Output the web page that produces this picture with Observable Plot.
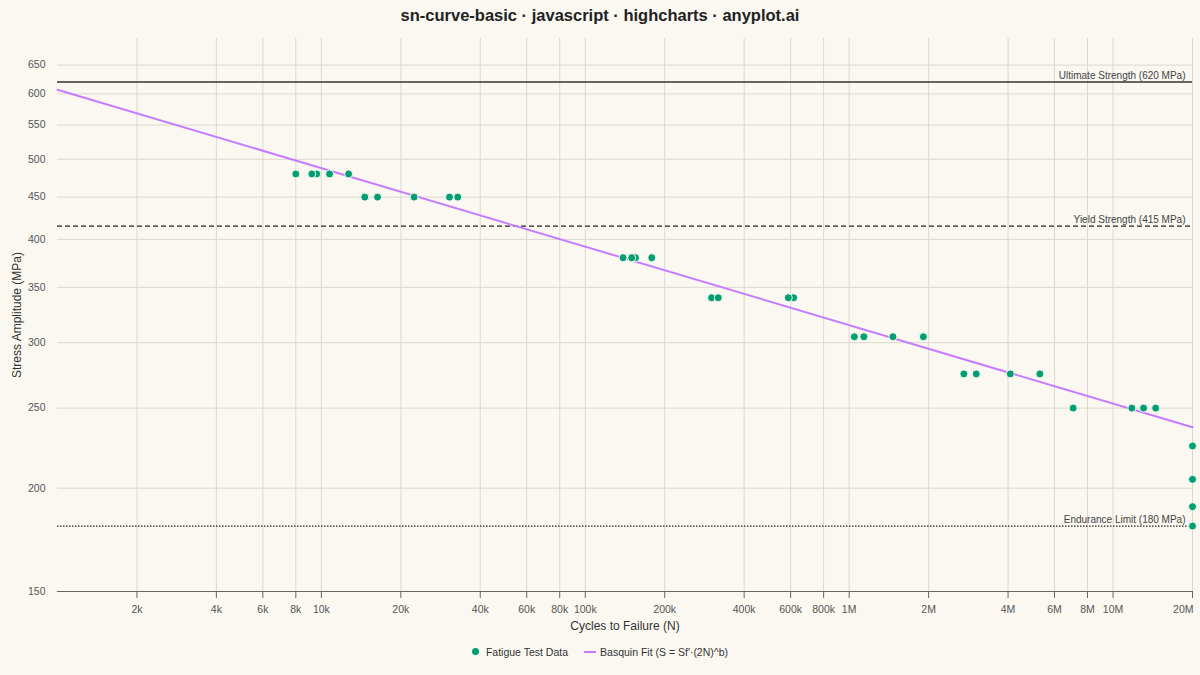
<!DOCTYPE html>
<html>
<head>
<meta charset="utf-8">
<script src="https://cdn.jsdelivr.net/npm/d3@7"></script>
<script src="https://cdn.jsdelivr.net/npm/@observablehq/plot@0.6"></script>
<style>
  html, body { margin: 0; padding: 0; background: #faf8f1; }
  body { width: 1200px; height: 675px; overflow: hidden; font-family: "Liberation Sans", Arial, sans-serif; }
  #title { height: 30px; line-height: 30px; text-align: center; font-size: 16.5px; font-weight: bold; color: #222; }
  #legend { height: 35px; display: flex; justify-content: center; align-items: center; font-size: 10.5px; color: #333; gap: 16px; margin-top: -6px; }
  .item { display: flex; align-items: center; gap: 7px; }
  .item2 { gap: 4px; }
  .dot { width: 7px; height: 7px; border-radius: 50%; background: #009e73; }
  .ln { width: 12px; height: 2px; background: #c77cff; }
</style>
</head>
<body>
<div id="title">sn-curve-basic · javascript · highcharts · anyplot.ai</div>
<div id="chart"></div>
<div id="legend">
  <div class="item"><span class="dot"></span><span>Fatigue Test Data</span></div>
  <div class="item item2"><span class="ln"></span><span>Basquin Fit (S = Sf'·(2N)^b)</span></div>
</div>
<script>
// Fatigue test data (occluded overlapping points listed first so they sit behind)
const cycles = [
  9600, 155000, 602000, 616000,
  8000, 9200, 10740, 12680,
  14600, 16320, 22460, 30590, 32870,
  139000, 150000, 178600,
  301000, 319000, 588000,
  1046000, 1137000, 1465000, 1910000,
  2720000, 3030000, 4080000, 5280000,
  7060000, 11780000, 13050000, 14500000,
  20000000, 20000000, 20000000, 20000000
];
const stress = [
  480, 380, 340, 340,
  480, 480, 480, 480,
  450, 450, 450, 450, 450,
  380, 380, 380,
  340, 340, 340,
  305, 305, 305, 305,
  275, 275, 275, 275,
  250, 250, 250, 250,
  225, 205, 190, 180
];

// Basquin fit line (straight on log-log), end values
const fitCycles = [1000, 20000000];
const fitStress = [607, 237];

// Reference strength levels
const refValues = [620, 415, 180];
const refLabels = ["Ultimate Strength (620 MPa)", "Yield Strength (415 MPa)", "Endurance Limit (180 MPa)"];

// Axis ticks
const xTicks = [2000, 4000, 6000, 8000, 10000, 20000, 40000, 60000, 80000, 100000, 200000, 400000, 600000, 800000,
  1000000, 2000000, 4000000, 6000000, 8000000, 10000000, 20000000];
const yTicks = [150, 200, 250, 300, 350, 400, 450, 500, 550, 600, 650];

const points = cycles.map((n, i) => ({n, s: stress[i]}));
const fit = fitCycles.map((n, i) => ({n, s: fitStress[i]}));
const refs = refValues.map((v, i) => ({v, label: refLabels[i]}));

const fmtX = d => d >= 1e6 ? (d / 1e6) + "M" : (d / 1e3) + "k";

const chart = Plot.plot({
  width: 1200,
  height: 610,
  marginTop: 8,
  marginLeft: 57,
  marginRight: 8,
  marginBottom: 49,
  style: { background: "transparent", fontFamily: "'Liberation Sans', Arial, sans-serif", fontSize: "10.5px", color: "#555" },
  x: { type: "log", domain: [1000, 20000000] },
  y: { type: "log", domain: [150, 700] },
  marks: [
    Plot.gridX(xTicks, { stroke: "#dcd8ce", strokeOpacity: 1 }),
    Plot.gridY(yTicks, { stroke: "#dcd8ce", strokeOpacity: 1 }),
    Plot.axisY({ ticks: yTicks, tickSize: 0, tickPadding: 12, tickFormat: d => d, label: null, fill: "#555", fontSize: 10.5 }),
    Plot.axisX({ ticks: xTicks, tickSize: 7, tickFormat: () => "", label: null, stroke: "#666" }),
    Plot.text(xTicks.slice(0, -1), { x: d => d, text: fmtX, frameAnchor: "bottom", lineAnchor: "middle", textAnchor: "middle", dy: 18, fill: "#555", fontSize: 10.5 }),
    Plot.text(xTicks.slice(-1), { x: d => d, text: fmtX, frameAnchor: "bottom", lineAnchor: "middle", textAnchor: "end", dx: 1, dy: 18, fill: "#555", fontSize: 10.5 }),
    Plot.ruleY([150], { stroke: "#666", strokeWidth: 1 }),
    Plot.ruleY(refs.filter((d, i) => i === 0), { y: "v", stroke: "#333", strokeWidth: 1.5 }),
    Plot.ruleY(refs.filter((d, i) => i === 1), { y: "v", stroke: "#222", strokeWidth: 1.2, strokeDasharray: "5,3" }),
    Plot.ruleY(refs.filter((d, i) => i === 2), { y: "v", stroke: "#222", strokeWidth: 1.2, strokeDasharray: "1.5,1.5" }),
    Plot.text(refs, { y: "v", text: "label", frameAnchor: "right", textAnchor: "end", lineAnchor: "bottom", dx: -7, dy: -3, fill: "#444", fontSize: 10 }),
    Plot.line(fit, { x: "n", y: "s", stroke: "#c77cff", strokeWidth: 2 }),
    Plot.dot(points, { x: "n", y: "s", r: 4, fill: "#009e73", stroke: "#faf8f1", strokeWidth: 1 }),
    Plot.text(["Cycles to Failure (N)"], { frameAnchor: "bottom", textAnchor: "middle", lineAnchor: "middle", dy: 35, fill: "#333", fontSize: 12 }),
    Plot.text(["Stress Amplitude (MPa)"], { frameAnchor: "left", textAnchor: "middle", lineAnchor: "middle", dx: -40, rotate: -90, fill: "#333", fontSize: 12 })
  ]
});
document.getElementById("chart").appendChild(chart);
</script>
</body>
</html>
